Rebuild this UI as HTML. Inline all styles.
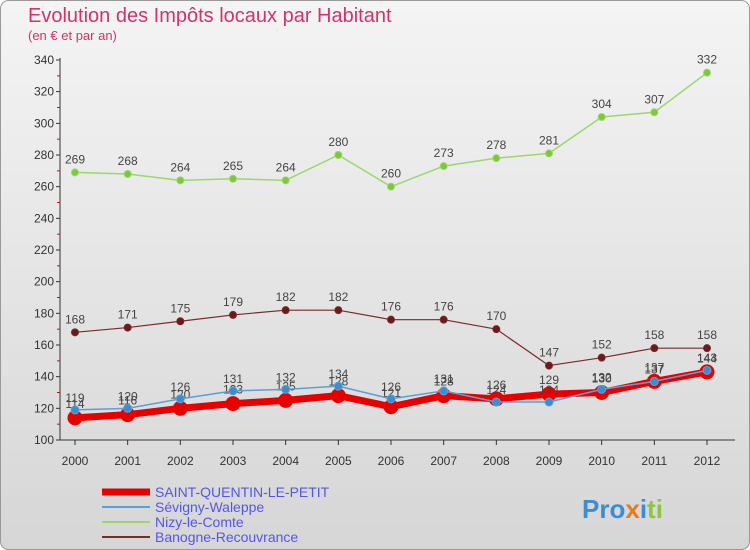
<!DOCTYPE html>
<html><head><meta charset="utf-8"><style>
body{margin:0}
#c{width:750px;height:550px;position:relative;font-family:"Liberation Sans",sans-serif;border-radius:8px;overflow:hidden;background:linear-gradient(#f4f4f4,#d6d6d6)}
</style></head><body>
<div id="c">
<svg id="s" width="750" height="550" xmlns="http://www.w3.org/2000/svg" style="position:absolute;left:0;top:0">
<rect x="0.5" y="0.5" width="749" height="549" rx="8" fill="none" stroke="#999"/>
<text x="28" y="22" font-size="20" fill="#d2326e">Evolution des Impôts locaux par Habitant</text>
<text x="28" y="40" font-size="13" fill="#d2326e">(en € et par an)</text>
<g id="axes"></g><g id="series"></g>
<rect x="100" y="478" width="560" height="68" fill="none"/>
<text x="582" y="518" font-size="26" font-weight="bold"><tspan fill="#3a8ed8">Pro</tspan><tspan fill="#e87a1e">x</tspan><tspan fill="#3a8ed8">i</tspan><tspan fill="#8cc63f">ti</tspan></text>
</svg>
</div>
<script>
const years=[2000,2001,2002,2003,2004,2005,2006,2007,2008,2009,2010,2011,2012];
const yTicks=[100,120,140,160,180,200,220,240,260,280,300,320,340];
const stQuentin=[114,116,120,123,125,128,121,128,126,129,130,137,143];
const sevigny=[119,120,126,131,132,134,126,131,124,124,132,137,144];
const nizy=[269,268,264,265,264,280,260,273,278,281,304,307,332];
const banogne=[168,171,175,179,182,182,176,176,170,147,152,158,158];
const NS="http://www.w3.org/2000/svg";
const X=i=>75+i*(707-75)/(years.length-1);
const Y=v=>440-(v-100)*380/240;
function mk(tag,at,parent){const e=document.createElementNS(NS,tag);for(const k in at)e.setAttribute(k,at[k]);parent.appendChild(e);return e;}
const ax=document.getElementById('axes'),sg=document.getElementById('series');
let a=mk('line',{x1:60,y1:58,x2:60,y2:440,stroke:'#333'},ax);


a=mk('line',{x1:60,y1:440,x2:735,y2:440,stroke:'#333'},ax);


yTicks.forEach(v=>{const y=Y(v);
 mk('line',{x1:56,y1:y,x2:60,y2:y,stroke:'#333'},ax);
 if(v<340)mk('line',{x1:57,y1:Y(v+10),x2:60,y2:Y(v+10),stroke:'#e00'},ax);
 const t=mk('text',{x:54,y:y+4,'font-size':12,'text-anchor':'end',fill:'#333'},ax);t.textContent=v;
 
 });
years.forEach((yr,i)=>{const x=X(i);
 mk('line',{x1:x,y1:440,x2:x,y2:445,stroke:'#333'},ax);
 const t=mk('text',{x:x,y:465,'font-size':12,'text-anchor':'middle',fill:'#333'},ax);t.textContent=yr;
 
 });
function series(data,name,col,dot,w,r,labelDy){
 const g=mk('g',{},sg);
 
 
 mk('polyline',{points:data.map((v,i)=>X(i)+','+Y(v)).join(' '),fill:'none',stroke:col,'stroke-width':w,'stroke-linejoin':'round'},g);
 data.forEach((v,i)=>{const c=mk('circle',{cx:X(i),cy:Y(v),r:r,fill:dot,stroke:col,'stroke-width':1},g);
  
  
  const t=mk('text',{x:X(i),y:Y(v)+labelDy,'font-size':12,'text-anchor':'middle',fill:'#444'},g);t.textContent=v;
  
  });
}
series(nizy,'nizy-le-comte-series','#9ad86a','#7cc83a',1.5,3.5,-9);
series(banogne,'banogne-recouvrance-series','#7a2a2a','#6a1a1a',1.2,3.5,-9);
series(stQuentin,'saint-quentin-series','#e80000','#e80000',7,7,-10);
series(sevigny,'sevigny-waleppe-series','#5aa0d8','#3a8ed0',1.5,4,-8);
const leg=[['SAINT-QUENTIN-LE-PETIT','#e80000',7],['Sévigny-Waleppe','#5aa0d8',2],['Nizy-le-Comte','#9ad86a',2],['Banogne-Recouvrance','#7a2a2a',2]];
const svg=document.getElementById('s');
leg.forEach((l,i)=>{const y=492+i*15;
 const g=mk('g',{},svg);
 
 
 mk('line',{x1:102,y1:y,x2:150,y2:y,stroke:l[1],'stroke-width':l[2]},g);
 const t=mk('text',{x:155,y:y+5,'font-size':14,fill:'#5555ee'},g);t.textContent=l[0];});
</script>
</body></html>
